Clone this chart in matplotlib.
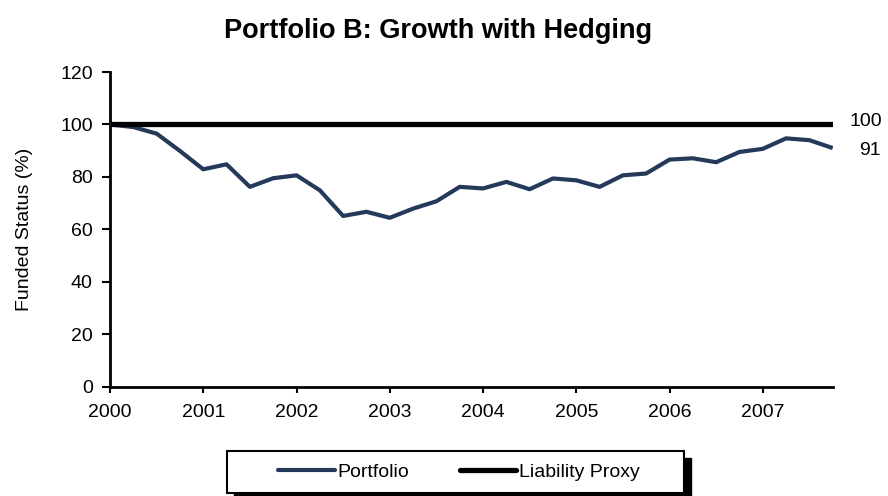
import matplotlib
matplotlib.use("Agg")
import matplotlib.pyplot as plt
from matplotlib.patches import Rectangle
from matplotlib.lines import Line2D

plt.rcParams['font.family'] = ['Liberation Sans', 'DejaVu Sans']

# Quarterly dates 2000Q1 .. 2007Q4 (as fractional years)
quarters = [2000 + 0.25 * i for i in range(32)]
portfolio = [100.0, 99.0, 96.5, 89.9, 82.9, 84.8, 76.2, 79.5,
             80.6, 74.9, 65.1, 66.7, 64.4, 67.9, 70.7, 76.2,
             75.6, 78.1, 75.3, 79.4, 78.7, 76.2, 80.6, 81.3,
             86.6, 87.1, 85.6, 89.5, 90.7, 94.7, 94.0, 91.0]
liability = [100.0] * 32
year_ticks = [2000, 2001, 2002, 2003, 2004, 2005, 2006, 2007]
y_ticks = [0, 20, 40, 60, 80, 100, 120]

W, H = 888, 496
fig = plt.figure(figsize=(W / 100, H / 100), dpi=100)
ax = fig.add_axes([110 / W, 1 - 386.7 / H, (832.7 - 110) / W, (386.7 - 72) / H])

navy = '#253A5B'
ax.plot(quarters, portfolio, color=navy, lw=3.0, solid_capstyle='butt', zorder=3)
ax.plot(quarters, liability, color='black', lw=3.8, solid_capstyle='butt', zorder=4)

ax.set_xlim(2000, 2007.75)
ax.set_ylim(0, 120)
ax.set_xticks(year_ticks)
ax.set_xticklabels([str(y) for y in year_ticks])
ax.set_yticks(y_ticks)
ax.tick_params(axis='x', direction='out', length=4, width=1.5, labelsize=14, pad=8.5)
ax.tick_params(axis='y', direction='out', length=5.5, width=1.5, labelsize=14, pad=7)
for s in ['top', 'right']:
    ax.spines[s].set_visible(False)
for s in ['left', 'bottom']:
    ax.spines[s].set_linewidth(2.0)
ax.set_ylabel('Funded Status (%)', fontsize=14)
ax.yaxis.set_label_coords(-(110 - 33) / (832.7 - 110), 0.5)

# End labels
ax.annotate(f'{liability[-1]:.0f}', xy=(quarters[-1], liability[-1]), xytext=(49, 2.5),
            textcoords='offset pixels', ha='right', va='center', fontsize=14,
            annotation_clip=False)
ax.annotate(f'{portfolio[-1]:.0f}', xy=(quarters[-1], portfolio[-1]), xytext=(48, -2.5),
            textcoords='offset pixels', ha='right', va='center', fontsize=14,
            annotation_clip=False)

fig.text(438 / W, 1 - 38 / H, 'Portfolio B: Growth with Hedging', ha='center', va='baseline',
         fontsize=19.5, fontweight='bold')

# Legend box with shadow
bx0, by0, bx1, by1 = 227, 451, 684, 493
shadow = Rectangle(((bx0 + 7) / W, 1 - (by1 + 7) / H), (bx1 - bx0) / W, (by1 - by0) / H,
                   transform=fig.transFigure, facecolor='black', edgecolor='black', zorder=1)
box = Rectangle((bx0 / W, 1 - by1 / H), (bx1 - bx0) / W, (by1 - by0) / H,
                transform=fig.transFigure, facecolor='white', edgecolor='black', lw=1.5, zorder=2)
fig.patches.extend([shadow, box])
handles = [Line2D([], [], color=navy, lw=3.0, solid_capstyle='round'),
           Line2D([], [], color='black', lw=3.8, solid_capstyle='round')]
leg = fig.legend(handles, ['Portfolio', 'Liability Proxy'], loc='center',
                 bbox_to_anchor=(459 / W, 1 - (by0 + by1) / 2 / H),
                 ncol=2, frameon=False, fontsize=14, handlelength=2.9, handletextpad=0.15,
                 columnspacing=2.6)
leg.set_zorder(5)

fig.savefig('out.png', dpi=100)
